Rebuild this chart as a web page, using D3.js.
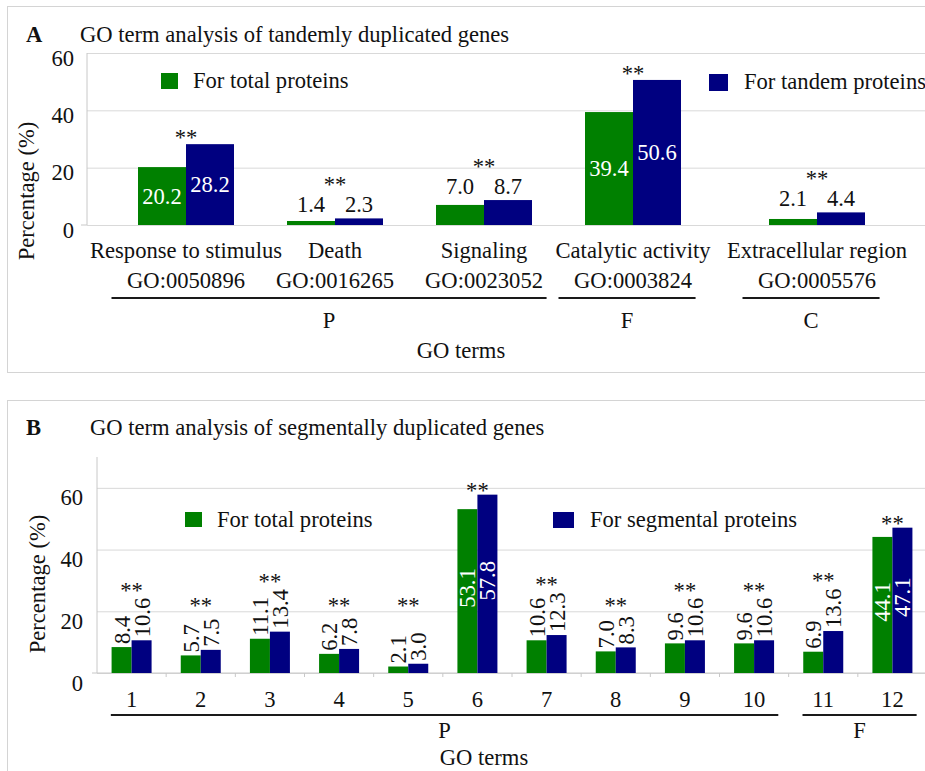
<!DOCTYPE html>
<html lang="en">
<head>
<meta charset="UTF-8">
<title>GO term analysis of duplicated genes</title>
<script src="https://cdn.jsdelivr.net/npm/d3@7"></script>
<style>
  body { margin: 0; background: #fff; }
  svg { display: block; }
  svg text { font-family: "Liberation Serif", "Times New Roman", serif; }
</style>
</head>
<body>
<svg id="chart" width="925" height="771"></svg>
<script>
// ---- data, panel A (tandem) ----
const termsA = ["Response to stimulus", "Death", "Signaling", "Catalytic activity", "Extracellular region"];
const goIdsA = ["GO:0050896", "GO:0016265", "GO:0023052", "GO:0003824", "GO:0005576"];
const groupA = ["P", "P", "P", "F", "C"];
const totalA = [20.2, 1.4, 7.0, 39.4, 2.1];
const tandemA = [28.2, 2.3, 8.7, 50.6, 4.4];

// ---- data, panel B (segmental) ----
const termsB = ["1", "2", "3", "4", "5", "6", "7", "8", "9", "10", "11", "12"];
const groupB = ["P", "P", "P", "P", "P", "P", "P", "P", "P", "P", "F", "F"];
const totalB = [8.4, 5.7, 11.1, 6.2, 2.1, 53.1, 10.6, 7.0, 9.6, 9.6, 6.9, 44.1];
const segB = [10.6, 7.5, 13.4, 7.8, 3.0, 57.8, 12.3, 8.3, 10.6, 10.6, 13.6, 47.1];

const yTicks = [0, 20, 40, 60];

const green = "#008000", navy = "#000080";
const ink = "#111";
const fs = 22.6;
const W = 925;
const fmt = d3.format(".1f");
const svg = d3.select("#chart");

function txt(g, x, y, s, opts = {}) {
  return g.append("text")
    .attr("x", x).attr("y", y)
    .attr("font-size", opts.size || fs)
    .attr("font-weight", opts.bold ? "bold" : null)
    .attr("text-anchor", opts.anchor || "start")
    .attr("fill", opts.fill || ink)
    .text(s);
}

// panel frames
svg.append("rect").attr("x", 7.5).attr("y", 6.5).attr("width", 930).attr("height", 366)
  .attr("fill", "none").attr("stroke", "#d4d4d4");
svg.append("rect").attr("x", 7.5).attr("y", 400.5).attr("width", 930).attr("height", 400)
  .attr("fill", "none").attr("stroke", "#d4d4d4");

// ================= Panel A =================
const gA = svg.append("g");
const yA = d3.scaleLinear().domain([0, 60]).range([225, 53]);
const xA = d3.scaleBand().domain(termsA).range([111.5, 856.5]);
const shiftA = { P: 0, F: 0, C: 35 };
const pairA = d3.scaleBand().domain(["total", "dup"]).range([-48, 48]);

const rowsA = termsA.map((t, i) => ({
  term: t, go: goIdsA[i], group: groupA[i],
  cx: xA(t) + xA.bandwidth() / 2 + shiftA[groupA[i]],
  vals: [{ key: "total", v: totalA[i] }, { key: "dup", v: tandemA[i] }]
}));

// grid + y axis
const axA = gA.append("g").attr("transform", "translate(87,0)")
  .call(d3.axisLeft(yA).tickValues(yTicks).tickSize(-(W - 87)).tickPadding(13))
  .attr("font-family", null).attr("font-size", null);
axA.select(".domain").remove();
axA.selectAll(".tick line").attr("stroke", "#d9d9d9");
axA.selectAll(".tick text").attr("font-size", fs).attr("fill", ink).attr("dy", 12);
gA.append("line").attr("x1", 87).attr("x2", 87).attr("y1", yA(60)).attr("y2", yA(0)).attr("stroke", "#c8c8c8");
gA.append("line").attr("x1", 81).attr("x2", 87).attr("y1", yA(0)).attr("y2", yA(0)).attr("stroke", "#c8c8c8");

txt(gA, 26, 42, "A", { bold: true });
txt(gA, 80, 42, "GO term analysis of tandemly duplicated genes");
txt(gA, 0, 0, "Percentage (%)", { anchor: "middle" })
  .attr("transform", "translate(34,191) rotate(-90)");

// bars
const catA = gA.selectAll(".catA").data(rowsA).join("g").attr("class", "catA");
catA.selectAll("rect").data(d => d.vals.map(v => ({ ...v, cx: d.cx }))).join("rect")
  .attr("x", d => d.cx + pairA(d.key))
  .attr("width", pairA.bandwidth())
  .attr("y", d => yA(d.v))
  .attr("height", d => yA(0) - yA(d.v))
  .attr("fill", d => d.key === "total" ? green : navy);

// value labels + stars
rowsA.forEach(r => {
  const top = d3.max(r.vals, d => d.v);
  r.vals.forEach(d => {
    const bx = r.cx + pairA(d.key) + pairA.bandwidth() / 2;
    if (top > 15) {
      txt(gA, bx, (yA(d.v) + yA(0)) / 2, fmt(d.v), { anchor: "middle", fill: "#fff" }).attr("dy", "0.35em");
    } else {
      txt(gA, bx, yA(top) - 6, fmt(d.v), { anchor: "middle" });
    }
  });
  const sy = top > 15 ? yA(top) + 1 : yA(top) - 26;
  txt(gA, r.cx, sy, "**", { anchor: "middle" });
});

// category labels
rowsA.forEach(r => {
  txt(gA, r.cx, 258, r.term, { anchor: "middle" });
  txt(gA, r.cx, 288, r.go, { anchor: "middle" });
});

// group lines
d3.groups(rowsA, d => d.group).forEach(([g, rows]) => {
  const x0 = d3.min(rows, d => d.cx) - 0.5 * xA.step();
  const x1 = d3.max(rows, d => d.cx) + 0.42 * xA.step();
  gA.append("line").attr("x1", x0).attr("x2", x1).attr("y1", 298).attr("y2", 298)
    .attr("stroke", "#1a1a1a").attr("stroke-width", 2);
  txt(gA, (x0 + x1) / 2, 328, g, { anchor: "middle" });
});
txt(gA, 461, 358, "GO terms", { anchor: "middle" });

// legend
gA.append("rect").attr("x", 161).attr("y", 73).attr("width", 17).attr("height", 16).attr("fill", green);
txt(gA, 193, 88, "For total proteins");
gA.append("rect").attr("x", 709).attr("y", 74).attr("width", 19).attr("height", 17).attr("fill", navy);
txt(gA, 744, 89, "For tandem proteins");

// ================= Panel B =================
const gB = svg.append("g");
const yB = d3.scaleLinear().domain([0, 70]).range([673, 457]);
const xB = d3.scaleBand().domain(termsB).range([97, 927]);
const pairB = d3.scaleBand().domain(["total", "dup"]).range([-20, 20]);

const rowsB = termsB.map((t, i) => ({
  term: t, group: groupB[i],
  cx: xB(t) + xB.bandwidth() / 2,
  vals: [{ key: "total", v: totalB[i] }, { key: "dup", v: segB[i] }]
}));

const axB = gB.append("g").attr("transform", "translate(97,0)")
  .call(d3.axisLeft(yB).tickValues(yTicks).tickSize(-(W - 97)).tickPadding(14))
  .attr("font-family", null).attr("font-size", null);
axB.select(".domain").remove();
axB.selectAll(".tick line").attr("stroke", "#d9d9d9");
axB.selectAll(".tick text").attr("font-size", fs).attr("fill", ink).attr("dy", 17);
gB.append("line").attr("x1", 97).attr("x2", 97).attr("y1", yB(70)).attr("y2", yB(0)).attr("stroke", "#c8c8c8");
gB.append("line").attr("x1", 92).attr("x2", W).attr("y1", yB(0)).attr("y2", yB(0)).attr("stroke", "#c8c8c8");
// small ticks between categories
gB.selectAll(".btick").data(termsB.slice(1)).join("line").attr("class", "btick")
  .attr("x1", d => xB(d)).attr("x2", d => xB(d))
  .attr("y1", yB(0)).attr("y2", yB(0) + 4).attr("stroke", "#c8c8c8");

txt(gB, 26, 435, "B", { bold: true });
txt(gB, 90, 435, "GO term analysis of segmentally duplicated genes");
txt(gB, 0, 0, "Percentage (%)", { anchor: "middle" })
  .attr("transform", "translate(45,584) rotate(-90)");

const catB = gB.selectAll(".catB").data(rowsB).join("g").attr("class", "catB");
catB.selectAll("rect").data(d => d.vals.map(v => ({ ...v, cx: d.cx }))).join("rect")
  .attr("x", d => d.cx + pairB(d.key))
  .attr("width", pairB.bandwidth())
  .attr("y", d => yB(d.v))
  .attr("height", d => yB(0) - yB(d.v))
  .attr("fill", d => d.key === "total" ? green : navy);

rowsB.forEach(r => {
  const top = d3.max(r.vals, d => d.v);
  let labelTop = Infinity;
  r.vals.forEach(d => {
    const bx = r.cx + pairB(d.key) + pairB.bandwidth() / 2;
    if (top > 15) {
      const cy = (yB(d.v) + yB(0)) / 2 - 3;
      txt(gB, 0, 0, fmt(d.v), { anchor: "middle", fill: "#fff" })
        .attr("dy", "0.35em")
        .attr("transform", `translate(${bx},${cy}) rotate(-90)`);
    } else {
      const y0 = yB(d.v) - 3;
      const t = txt(gB, 0, 0, fmt(d.v), { anchor: "start" })
        .attr("dy", "0.35em")
        .attr("transform", `translate(${bx},${y0}) rotate(-90)`);
      labelTop = Math.min(labelTop, y0 - t.node().getComputedTextLength());
    }
  });
  const sy = top > 15 ? yB(top) + 3 : Math.min(labelTop - 10, 603) + 10;
  txt(gB, r.cx, sy, "**", { anchor: "middle" });
});

// x labels
gB.selectAll(".xlabB").data(rowsB).join("text").attr("class", "xlabB")
  .attr("x", d => d.cx).attr("y", 707)
  .attr("font-size", fs).attr("text-anchor", "middle").attr("fill", ink)
  .text(d => d.term);

d3.groups(rowsB, d => d.group).forEach(([g, rows]) => {
  const x0 = d3.min(rows, d => d.cx) - 0.3 * xB.step();
  const x1 = d3.max(rows, d => d.cx) + 0.35 * xB.step();
  gB.append("line").attr("x1", x0).attr("x2", x1).attr("y1", 715).attr("y2", 715)
    .attr("stroke", "#1a1a1a").attr("stroke-width", 2);
  txt(gB, (x0 + x1) / 2, 738, g, { anchor: "middle" });
});
txt(gB, 484, 765, "GO terms", { anchor: "middle" });

gB.append("rect").attr("x", 185).attr("y", 512).attr("width", 17).attr("height", 15).attr("fill", green);
txt(gB, 217, 527, "For total proteins");
gB.append("rect").attr("x", 553).attr("y", 512).attr("width", 21).attr("height", 16).attr("fill", navy);
txt(gB, 590, 527, "For segmental proteins");
</script>
</body>
</html>
